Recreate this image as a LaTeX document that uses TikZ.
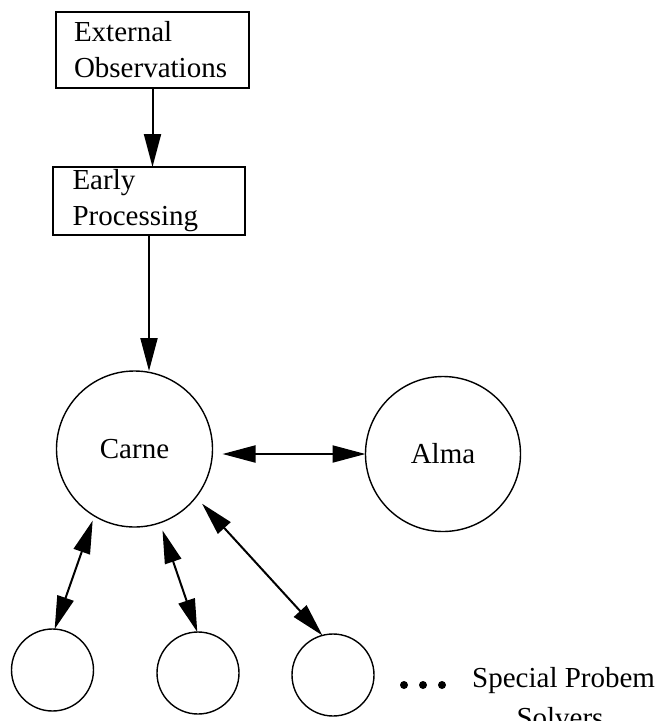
\documentclass[tikz,border=0pt]{standalone}
\usepackage{fontspec}
\setmainfont{Liberation Serif}
\usetikzlibrary{arrows.meta}
\tikzset{
  box/.style={draw, line width=1.3pt, inner sep=0pt, outer sep=0pt, align=left,
    font=\fontsize{29}{36}\selectfont},
  circ/.style={draw, circle, line width=1.4pt, inner sep=0pt, outer sep=0pt,
    font=\fontsize{29}{35}\selectfont},
  big/.style={circ, minimum size=156pt},
  small/.style={circ, minimum size=82pt},
  onearrow/.style={line width=2pt, -{Triangle[length=33pt,width=17pt]}},
  twoarrow/.style={line width=2pt, {Triangle[length=33pt,width=17pt]}-{Triangle[length=33pt,width=17pt]}},
  lbl/.style={font=\fontsize{29}{35}\selectfont, inner sep=0pt, anchor=base west},
  dot/.style={circle, fill, inner sep=0pt, minimum size=8pt}
}
\begin{document}
\begin{tikzpicture}[x=1pt,y=1pt]
\useasboundingbox (0,0) rectangle (654,-721);
\node[box, minimum width=193pt, minimum height=76pt, text width=157pt] (ext) at (152.5,-50) {External\\Observations};
\node[box, minimum width=192pt, minimum height=68pt, text width=153pt] (early) at (149,-201) {Early\\Processing};
\node[big] (carne) at (134.5,-449) {Carne};
\node[big, minimum size=155pt] (alma) at (443,-454) {Alma};
\node[small] (c1) at (52.5,-670) {};
\node[small] (c2) at (198,-673) {};
\node[small] (c3) at (333,-675) {};
\draw[onearrow] (ext.south) -- (ext.south |- early.north);
\draw[onearrow] (early.south) -- (early.south |- carne.north);
\draw[twoarrow, shorten <=10pt] (carne.east |- alma.west) -- (alma.west);
\draw[twoarrow, shorten <=5pt] (carne.239) -- (c1.87);
\draw[twoarrow, shorten <=8pt] (carne.289) -- (c2.91);
\draw[twoarrow, shorten <=9pt] (carne.322) -- (c3.105);
\node[dot] (d1) at (404,-685) {};
\node[dot] (d2) at (423,-685) {};
\node[dot] (d3) at (442,-685) {};
\node[lbl] (sp) at (472,-687) {Special Probem};
\node[lbl, anchor=base] (so) at (560,-727) {Solvers};
\end{tikzpicture}
\end{document}
